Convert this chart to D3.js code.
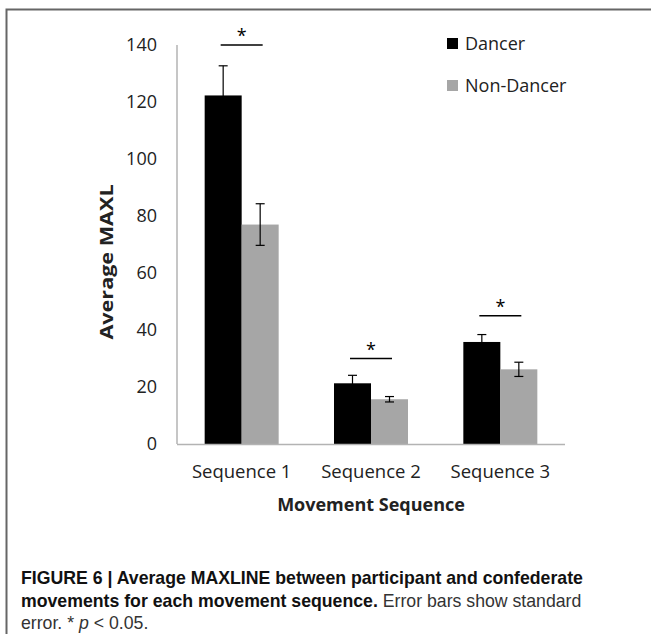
<!DOCTYPE html>
<html><head><meta charset="utf-8">
<script src="https://cdn.jsdelivr.net/npm/d3@7"></script>
<style>body{margin:0;background:#fff}</style>
</head><body>
<svg id="c" width="651" height="634"></svg>
<script>
const categories = ["Sequence 1", "Sequence 2", "Sequence 3"];
const seriesNames = ["Dancer", "Non-Dancer"];
const dancer = [122.3, 21.3, 35.8];
const dancerSE = [10.4, 2.8, 2.6];
const nonDancer = [77.0, 15.7, 26.2];
const nonDancerSE = [7.3, 0.95, 2.5];
const sigLevel = [140, 30, 45];
const yTicks = [0, 20, 40, 60, 80, 100, 120, 140];
const colors = ["#000000", "#a6a6a6"];

const svg = d3.select("#c");
const font = "'Open Sans', sans-serif";

// frame
svg.append("path").attr("d", "M6.5,634 L6.5,9.5 L651,9.5")
  .attr("fill", "none").attr("stroke", "#666").attr("stroke-width", 2);

const x = d3.scaleBand().domain(categories).range([177, 565]).paddingInner(0).paddingOuter(0);
const y = d3.scaleLinear().domain([0, 140]).range([444, 45]);
const barW = 37;
const sub = d3.scaleBand().domain(seriesNames).range([0, barW * 2]);

// y axis line
svg.append("line").attr("x1", 177).attr("x2", 177).attr("y1", y(140)).attr("y2", y(0))
  .attr("stroke", "#b3b3b3").attr("stroke-width", 1.5);

const yAxis = d3.axisLeft(y).tickValues(yTicks).tickSize(0).tickPadding(0);
const ya = svg.append("g").attr("transform", "translate(157,0)").call(yAxis);
ya.select(".domain").remove();
ya.selectAll("text").attr("font-family", font).attr("font-size", 18).attr("fill", "#222");

const data = categories.map((c, i) => ({c, vals: [
  {s: seriesNames[0], v: dancer[i], e: dancerSE[i]},
  {s: seriesNames[1], v: nonDancer[i], e: nonDancerSE[i]}], sig: sigLevel[i]}));

const g = svg.append("g");
const grp = g.selectAll("g.grp").data(data).join("g")
  .attr("transform", d => `translate(${x(d.c) + x.bandwidth() / 2 - barW},0)`);
grp.selectAll("rect").data(d => d.vals).join("rect")
  .attr("x", d => sub(d.s)).attr("width", sub.bandwidth())
  .attr("y", d => y(d.v)).attr("height", d => y(0) - y(d.v))
  .attr("fill", (d, i) => colors[i]);

// error bars
const eb = grp.selectAll("g.eb").data(d => d.vals).join("g")
  .attr("transform", d => `translate(${sub(d.s) + sub.bandwidth() / 2},0)`);
eb.append("line").attr("y1", d => y(d.v + d.e)).attr("y2", d => y(d.v - d.e))
  .attr("stroke", "#000").attr("stroke-width", 1.2);
eb.append("line").attr("x1", -4.5).attr("x2", 4.5).attr("y1", d => y(d.v + d.e)).attr("y2", d => y(d.v + d.e))
  .attr("stroke", "#000").attr("stroke-width", 1.2);
eb.append("line").attr("x1", -4.5).attr("x2", 4.5).attr("y1", d => y(d.v - d.e)).attr("y2", d => y(d.v - d.e))
  .attr("stroke", "#000").attr("stroke-width", 1.2);

// x axis baseline
svg.append("line").attr("x1", 177).attr("x2", 565).attr("y1", 444.5).attr("y2", 444.5)
  .attr("stroke", "#b3b3b3").attr("stroke-width", 1.5);

const xAxis = d3.axisBottom(x).tickSize(0).tickPadding(0);
const xa = svg.append("g").attr("transform", "translate(0,465)").call(xAxis);
xa.select(".domain").remove();
xa.selectAll("text").attr("font-family", font).attr("font-size", 18.5).attr("fill", "#222");

// significance
const sg = svg.selectAll("g.sig").data(data).join("g")
  .attr("transform", d => `translate(${x(d.c) + x.bandwidth() / 2},${y(d.sig)})`);
sg.append("line").attr("x1", -21).attr("x2", 21).attr("stroke", "#000").attr("stroke-width", 1.3);
sg.append("text").attr("text-anchor", "middle").attr("y", -3)
  .attr("font-family", font).attr("font-size", 18).text("*");

// axis titles
svg.append("text").attr("x", 371).attr("y", 511).attr("text-anchor", "middle")
  .attr("font-family", font).attr("font-weight", "bold").attr("font-size", 18).attr("fill", "#222")
  .text("Movement Sequence");
svg.append("text").attr("transform", "translate(113,262) rotate(-90) scale(1.2,1)").attr("text-anchor", "middle")
  .attr("font-family", font).attr("font-weight", "bold").attr("font-size", 18).attr("fill", "#222")
  .text("Average MAXL");

// legend
const lg = svg.selectAll("g.lg").data(seriesNames).join("g")
  .attr("transform", (d, i) => `translate(447,${38 + i * 42})`);
lg.append("rect").attr("width", 11).attr("height", 11).attr("fill", (d, i) => colors[i]);
lg.append("text").attr("x", 18).attr("y", 11.5).attr("font-family", font).attr("font-size", 18)
  .attr("fill", "#222").text(d => d);

// caption
const cf = "'Liberation Sans Narrow', 'Liberation Sans', sans-serif";
const cap = svg.append("g").attr("font-family", cf).attr("font-size", 17.7).attr("fill", "#111");
const t1 = cap.append("text").attr("x", 21).attr("y", 584);
t1.append("tspan").attr("font-weight", "bold").text("FIGURE 6 | Average MAXLINE between participant and confederate");
const t2 = cap.append("text").attr("x", 21).attr("y", 607);
t2.append("tspan").attr("font-weight", "bold").text("movements for each movement sequence.");
t2.append("tspan").attr("fill", "#333").text(" Error bars show standard");
const t3 = cap.append("text").attr("x", 21).attr("y", 629).attr("fill", "#333");
t3.append("tspan").text("error. * ");
t3.append("tspan").attr("font-style", "italic").text("p");
t3.append("tspan").text(" < 0.05.");
</script>
</body></html>
